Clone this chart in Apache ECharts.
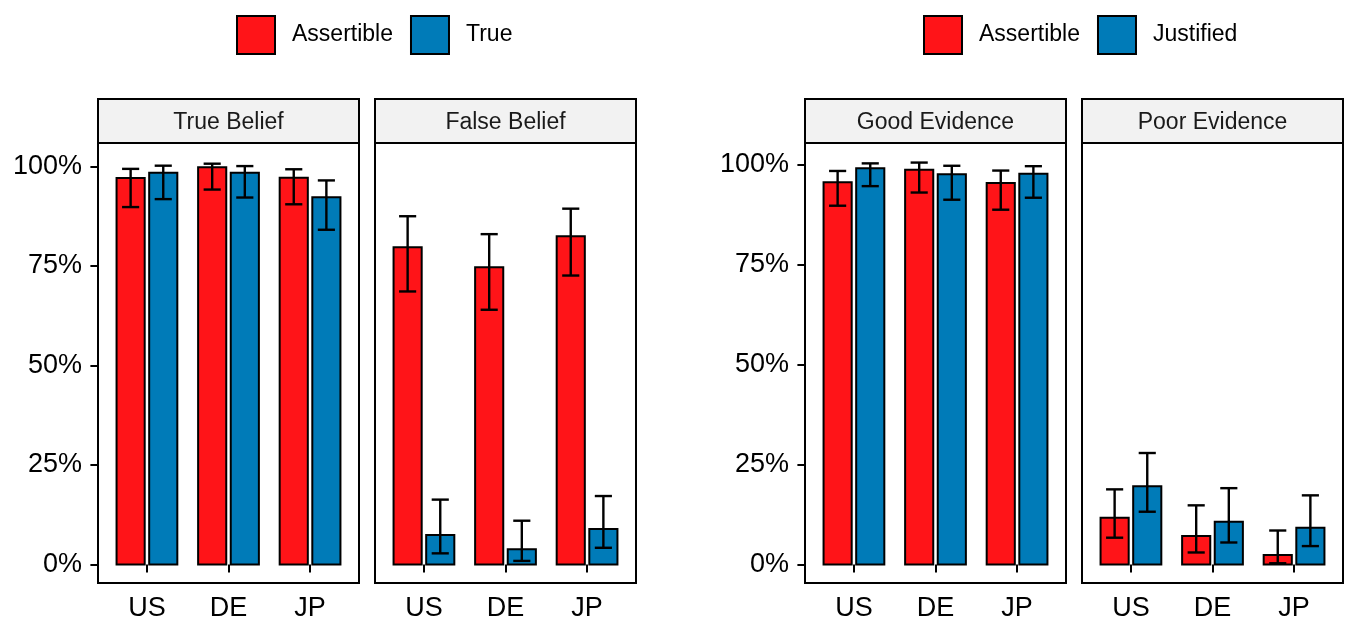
<!DOCTYPE html>
<html>
<head>
<meta charset="utf-8">
<script src="https://cdn.jsdelivr.net/npm/echarts@6/dist/echarts.min.js"></script>
<style>
html,body{margin:0;padding:0;background:#fff;}
#chart{width:1352px;height:622px;}
</style>
</head>
<body>
<div id="chart"></div>
<script>
// ---- data ----
const categories = ['US', 'DE', 'JP'];
const yTicks = [0, 25, 50, 75, 100];
const panelTitles = ['True Belief', 'False Belief', 'Good Evidence', 'Poor Evidence'];

// True Belief
const tbAssertible   = [97.1, 99.8, 97.2];
const tbAssertibleLo = [89.8, 94.2, 90.5];
const tbAssertibleHi = [99.4, 100.7, 99.3];
const tbTrue   = [98.4, 98.4, 92.3];
const tbTrueLo = [91.8, 92.2, 84.1];
const tbTrueHi = [100.2, 100.1, 96.5];

// False Belief
const fbAssertible   = [79.7, 74.7, 82.5];
const fbAssertibleLo = [68.6, 64.0, 72.6];
const fbAssertibleHi = [87.5, 83.0, 89.4];
const fbTrue   = [7.4, 3.8, 8.9];
const fbTrueLo = [2.8, 0.9, 4.2];
const fbTrueHi = [16.3, 11.0, 17.2];

// Good Evidence
const geAssertible   = [95.7, 98.8, 95.5];
const geAssertibleLo = [89.8, 93.1, 88.8];
const geAssertibleHi = [98.5, 100.6, 98.6];
const geJustified   = [99.2, 97.7, 97.8];
const geJustifiedLo = [94.7, 91.3, 91.8];
const geJustifiedHi = [100.4, 99.8, 99.7];

// Poor Evidence
const peAssertible   = [11.7, 7.1, 2.4];
const peAssertibleLo = [6.7, 3.0, 0.3];
const peAssertibleHi = [18.8, 14.8, 8.5];
const peJustified   = [19.6, 10.7, 9.2];
const peJustifiedLo = [13.2, 5.5, 4.6];
const peJustifiedHi = [27.9, 19.1, 17.3];

// ---- style ----
const RED = '#FF1418';
const BLUE = '#007BB8';
const FONT = 'Liberation Sans, Arial, Helvetica, sans-serif';
const BAR_HALF = 0.1725;
const ERR_HALF = 0.105;
const DODGE = 0.2;

const grids = [
  { left: 98, top: 143, width: 261, height: 441 },
  { left: 375, top: 143, width: 261, height: 441 },
  { left: 805, top: 143, width: 261, height: 441 },
  { left: 1082, top: 143, width: 261, height: 441 }
];
const yRanges = [[-4.65, 105.9], [-4.65, 105.9], [-4.64, 105.5], [-4.64, 105.5]];

function makeSeries(name, vals, lo, hi, color, off, gi) {
  return {
    type: 'custom',
    name: name,
    xAxisIndex: gi,
    yAxisIndex: gi,
    coordinateSystem: 'cartesian2d',
    itemStyle: { color: color },
    encode: { x: 0, y: [1, 2, 3] },
    data: categories.map((c, i) => [i + 1, vals[i], lo[i], hi[i]]),
    renderItem: function (params, api) {
      const x = api.value(0) + off;
      const v = api.value(1), l = api.value(2), h = api.value(3);
      const p0 = api.coord([x - BAR_HALF, v]);
      const p1 = api.coord([x + BAR_HALF, 0]);
      const t = api.coord([x, h]);
      const b = api.coord([x, l]);
      const el = api.coord([x - ERR_HALF, h]);
      const er = api.coord([x + ERR_HALF, h]);
      const lineStyle = { stroke: '#000', lineWidth: 2.4 };
      return {
        type: 'group',
        children: [
          { type: 'rect', shape: { x: p0[0], y: p0[1], width: p1[0] - p0[0], height: p1[1] - p0[1] },
            style: { fill: color, stroke: '#000', lineWidth: 2 } },
          { type: 'line', shape: { x1: t[0], y1: t[1], x2: b[0], y2: b[1] }, style: lineStyle },
          { type: 'line', shape: { x1: el[0], y1: t[1], x2: er[0], y2: t[1] }, style: lineStyle },
          { type: 'line', shape: { x1: el[0], y1: b[1], x2: er[0], y2: b[1] }, style: lineStyle }
        ]
      };
    }
  };
}

const xAxes = grids.map((g, i) => ({
  type: 'value', gridIndex: i, min: 0.4, max: 3.6,
  axisLine: { show: false },
  splitLine: { show: false },
  axisTick: { show: true, length: 8, lineStyle: { color: '#000', width: 2 }, customValues: [1, 2, 3] },
  axisLabel: { show: true, customValues: [1, 2, 3], formatter: v => categories[Math.round(v) - 1],
    fontSize: 27, color: '#000', fontFamily: FONT, margin: 12 }
}));

const yAxes = grids.map((g, i) => {
  const showLab = (i === 0 || i === 2);
  return {
    type: 'value', gridIndex: i, min: yRanges[i][0], max: yRanges[i][1],
    axisLine: { show: false },
    splitLine: { show: false },
    axisTick: { show: showLab, length: 7.6, lineStyle: { color: '#000', width: 2 }, customValues: yTicks },
    axisLabel: { show: showLab, customValues: yTicks, formatter: v => v + '%',
      fontSize: 27, color: '#000', fontFamily: FONT, margin: 16 }
  };
});

const graphics = [];
grids.forEach((g, i) => {
  graphics.push({ type: 'rect', z: 10, shape: { x: g.left, y: 99, width: g.width, height: 44 },
    style: { fill: '#F2F2F2', stroke: '#000', lineWidth: 2 } });
  graphics.push({ type: 'text', z: 11, x: g.left + g.width / 2, y: 123,
    style: { text: panelTitles[i], fontSize: 23, fill: '#1a1a1a', fontFamily: FONT, align: 'center', verticalAlign: 'middle' } });
});

const legendBase = {
  orient: 'horizontal', top: 15, padding: 0, itemWidth: 38, itemHeight: 38, itemGap: 17,
  selectedMode: false, icon: 'rect',
  itemStyle: { borderColor: '#000', borderWidth: 2 },
  textStyle: { fontSize: 23, color: '#000', fontFamily: FONT, padding: [0, 0, 0, 12] }
};

const option = {
  animation: false,
  backgroundColor: '#fff',
  grid: grids.map(g => Object.assign({ show: true, borderColor: '#000', borderWidth: 2, backgroundColor: 'transparent' }, g)),
  xAxis: xAxes,
  yAxis: yAxes,
  legend: [
    Object.assign({}, legendBase, { left: 236, data: ['Assertible', 'True'] }),
    Object.assign({}, legendBase, { left: 923, data: ['Assertible', 'Justified'] })
  ],
  graphic: graphics,
  series: [
    makeSeries('Assertible', tbAssertible, tbAssertibleLo, tbAssertibleHi, RED, -DODGE, 0),
    makeSeries('True', tbTrue, tbTrueLo, tbTrueHi, BLUE, DODGE, 0),
    makeSeries('Assertible', fbAssertible, fbAssertibleLo, fbAssertibleHi, RED, -DODGE, 1),
    makeSeries('True', fbTrue, fbTrueLo, fbTrueHi, BLUE, DODGE, 1),
    makeSeries('Assertible', geAssertible, geAssertibleLo, geAssertibleHi, RED, -DODGE, 2),
    makeSeries('Justified', geJustified, geJustifiedLo, geJustifiedHi, BLUE, DODGE, 2),
    makeSeries('Assertible', peAssertible, peAssertibleLo, peAssertibleHi, RED, -DODGE, 3),
    makeSeries('Justified', peJustified, peJustifiedLo, peJustifiedHi, BLUE, DODGE, 3)
  ]
};

const chart = echarts.init(document.getElementById('chart'), null, { renderer: 'canvas' });
chart.setOption(option);
</script>
</body>
</html>
